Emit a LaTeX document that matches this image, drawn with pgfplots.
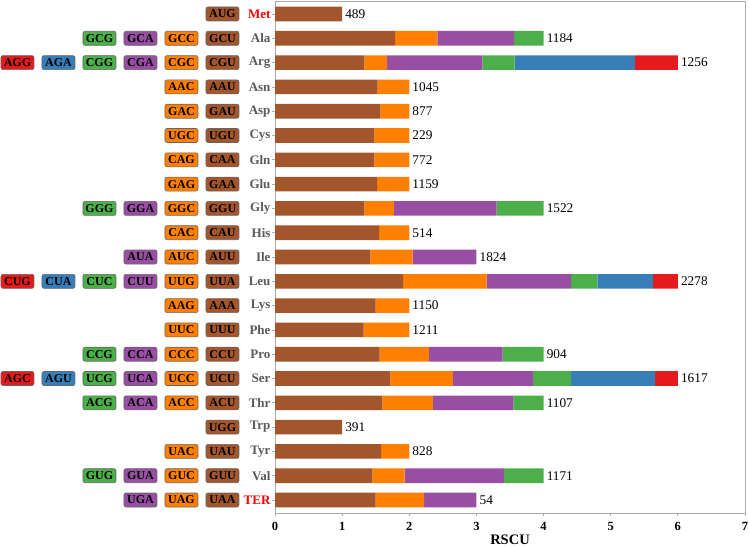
\documentclass[border=0pt]{standalone}
\usepackage{pgfplots}
\pgfplotsset{compat=1.18}
\usepackage{pgfplotstable}
\usepackage{fontspec}
\setmainfont{Liberation Serif}
\definecolor{cbrown}{HTML}{A3552B}
\definecolor{corange}{HTML}{FF7F00}
\definecolor{cpurple}{HTML}{984EA3}
\definecolor{cgreen}{HTML}{4DAF4A}
\definecolor{cblue}{HTML}{377EB8}
\definecolor{cred}{HTML}{E41A1C}
\definecolor{tgray}{HTML}{5A5A5A}
\definecolor{fgray}{HTML}{AAAAAA}

\pgfplotstableread{
row b o p g u r tot cnt
0 1.50 0.72 0.78 0 0 0 3 54
1 1.45 0.48 1.48 0.59 0 0 4 1171
2 1.58 0.42 0 0 0 0 2 828
3 1.00 0 0 0 0 0 1 391
4 1.60 0.75 1.20 0.45 0 0 4 1107
5 1.72 0.93 1.19 0.57 1.25 0.34 6 1617
6 1.56 0.73 1.10 0.61 0 0 4 904
7 1.32 0.68 0 0 0 0 2 1211
8 1.50 0.50 0 0 0 0 2 1150
9 1.91 1.24 1.26 0.39 0.83 0.37 6 2278
10 1.42 0.63 0.95 0 0 0 3 1824
11 1.55 0.45 0 0 0 0 2 514
12 1.33 0.44 1.53 0.70 0 0 4 1522
13 1.52 0.48 0 0 0 0 2 1159
14 1.48 0.52 0 0 0 0 2 772
15 1.48 0.52 0 0 0 0 2 229
16 1.57 0.43 0 0 0 0 2 877
17 1.53 0.47 0 0 0 0 2 1045
18 1.33 0.34 1.42 0.48 1.79 0.64 6 1256
19 1.79 0.63 1.14 0.44 0 0 4 1184
20 1.00 0 0 0 0 0 1 489
}\rscu

\tikzset{codon/.style={draw=gray!80!black, line width=0.6pt, rounded corners=2pt,
  minimum width=33pt, minimum height=14pt, inner sep=0pt, text=black,
  font=\fontsize{12}{12}\selectfont\bfseries}}
\newcommand{\cod}[4]{\node[codon,fill=#3] at ([xshift={-52.5pt-41pt*#1}]axis cs:0,#2) {#4};}
\pgfplotsset{common/.style={
  scale only axis,
  width=470pt, height=512pt,
  xmin=0, xmax=7,
  ymin=-0.535, ymax=20.535,
  enlargelimits=false,
  clip=false}}

\begin{document}
\begin{tikzpicture}
\begin{axis}[
  common,
  xbar stacked,
  bar width=14.6pt,
  xtick={0,...,7},
  ytick={0,...,20},
  yticklabels={\textcolor{red}{TER},Val,Tyr,Trp,Thr,Ser,Pro,Phe,Lys,Leu,Ile,His,Gly,Glu,Gln,Cys,Asp,Asn,Arg,Ala,\textcolor{red}{Met}},
  yticklabel style={font=\fontsize{13}{14}\selectfont\bfseries, text=tgray, xshift=2pt},
  xticklabel style={font=\fontsize{12.5}{13}\selectfont\bfseries, yshift=-2.5pt},
  /pgf/number format/assume math mode=true,
  xlabel={RSCU},
  xlabel style={font=\fontsize{14.5}{15}\selectfont\bfseries, at={(axis description cs:0.5,0)}, anchor=center, yshift=-27pt},
  axis line style={fgray, line width=0.8pt},
  tick style={fgray, line width=0.8pt},
  major tick length=3pt,
  tick align=outside,
  xtick pos=bottom, ytick pos=left,
]
\addplot[fill=cbrown, draw=none] table[x=b, y=row] {\rscu};
\addplot[fill=corange, draw=none] table[x=o, y=row] {\rscu};
\addplot[fill=cpurple, draw=none] table[x=p, y=row] {\rscu};
\addplot[fill=cgreen, draw=none] table[x=g, y=row] {\rscu};
\addplot[fill=cblue, draw=none] table[x=u, y=row] {\rscu};
\addplot[fill=cred, draw=none] table[x=r, y=row] {\rscu};
\coordinate (A) at (rel axis cs:0,0);
\coordinate (B) at (rel axis cs:1,1);
% codon boxes
\cod{0}{20}{cbrown}{AUG}
\cod{0}{19}{cbrown}{GCU}\cod{1}{19}{corange}{GCC}\cod{2}{19}{cpurple}{GCA}\cod{3}{19}{cgreen}{GCG}
\cod{0}{18}{cbrown}{CGU}\cod{1}{18}{corange}{CGC}\cod{2}{18}{cpurple}{CGA}\cod{3}{18}{cgreen}{CGG}\cod{4}{18}{cblue}{AGA}\cod{5}{18}{cred}{AGG}
\cod{0}{17}{cbrown}{AAU}\cod{1}{17}{corange}{AAC}
\cod{0}{16}{cbrown}{GAU}\cod{1}{16}{corange}{GAC}
\cod{0}{15}{cbrown}{UGU}\cod{1}{15}{corange}{UGC}
\cod{0}{14}{cbrown}{CAA}\cod{1}{14}{corange}{CAG}
\cod{0}{13}{cbrown}{GAA}\cod{1}{13}{corange}{GAG}
\cod{0}{12}{cbrown}{GGU}\cod{1}{12}{corange}{GGC}\cod{2}{12}{cpurple}{GGA}\cod{3}{12}{cgreen}{GGG}
\cod{0}{11}{cbrown}{CAU}\cod{1}{11}{corange}{CAC}
\cod{0}{10}{cbrown}{AUU}\cod{1}{10}{corange}{AUC}\cod{2}{10}{cpurple}{AUA}
\cod{0}{9}{cbrown}{UUA}\cod{1}{9}{corange}{UUG}\cod{2}{9}{cpurple}{CUU}\cod{3}{9}{cgreen}{CUC}\cod{4}{9}{cblue}{CUA}\cod{5}{9}{cred}{CUG}
\cod{0}{8}{cbrown}{AAA}\cod{1}{8}{corange}{AAG}
\cod{0}{7}{cbrown}{UUU}\cod{1}{7}{corange}{UUC}
\cod{0}{6}{cbrown}{CCU}\cod{1}{6}{corange}{CCC}\cod{2}{6}{cpurple}{CCA}\cod{3}{6}{cgreen}{CCG}
\cod{0}{5}{cbrown}{UCU}\cod{1}{5}{corange}{UCC}\cod{2}{5}{cpurple}{UCA}\cod{3}{5}{cgreen}{UCG}\cod{4}{5}{cblue}{AGU}\cod{5}{5}{cred}{AGC}
\cod{0}{4}{cbrown}{ACU}\cod{1}{4}{corange}{ACC}\cod{2}{4}{cpurple}{ACA}\cod{3}{4}{cgreen}{ACG}
\cod{0}{3}{cbrown}{UGG}
\cod{0}{2}{cbrown}{UAU}\cod{1}{2}{corange}{UAC}
\cod{0}{1}{cbrown}{GUU}\cod{1}{1}{corange}{GUC}\cod{2}{1}{cpurple}{GUA}\cod{3}{1}{cgreen}{GUG}
\cod{0}{0}{cbrown}{UAA}\cod{1}{0}{corange}{UAG}\cod{2}{0}{cpurple}{UGA}
\end{axis}
\begin{axis}[common, hide axis]
\addplot[draw=none, mark=none, nodes near coords, point meta=explicit symbolic,
  nodes near coords style={font=\fontsize{13.3}{14}\selectfont, text=black, anchor=west, inner sep=3pt}]
  table[x=tot, y=row, meta=cnt] {\rscu};
\end{axis}
\pgfresetboundingbox
\path[use as bounding box] ([shift={(-275pt,-34pt)}]A) rectangle ([shift={(4pt,1pt)}]B);
\end{tikzpicture}
\end{document}
